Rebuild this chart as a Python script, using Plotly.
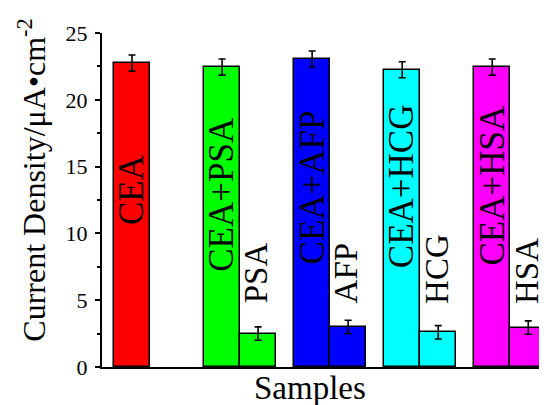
import plotly.graph_objects as go

# ---- data ----
categories = ["CEA", "CEA+PSA", "PSA", "CEA+AFP", "AFP", "CEA+HCG", "HCG", "CEA+HSA", "HSA"]
values = [22.75, 22.45, 2.5, 23.05, 3.0, 22.25, 2.6, 22.45, 2.95]
errors = [0.6, 0.6, 0.5, 0.6, 0.5, 0.6, 0.5, 0.6, 0.5]
groups = [0, 1, 1, 2, 2, 3, 3, 4, 4]
slots = [0, 0, 1, 0, 1, 0, 1, 0, 1]
colors = ["#FF0000", "#00FF00", "#00FF00", "#0000FF", "#0000FF",
          "#00FFFF", "#00FFFF", "#FF00FF", "#FF00FF"]
y_ticks = [0, 5, 10, 15, 20, 25]
inside_label_y = [13.25, 12.9, None, 13.45, None, 13.55, None, 13.6, None]
outside_label_y = 4.6

FONT = "Liberation Serif, Times New Roman, serif"

xpos = [g * 2.5 + s for g, s in zip(groups, slots)]

fig = go.Figure()
fig.add_trace(go.Bar(
    x=xpos, y=values, width=1,
    marker=dict(color=colors, line=dict(color="black", width=1.5)),
    error_y=dict(type="data", array=errors, color="black", thickness=1.6, width=3.5),
    showlegend=False,
))

annotations = []
for x, cat, s, ly in zip(xpos, categories, slots, inside_label_y):
    if s == 0:
        annotations.append(dict(x=x, y=ly, xref="x", yref="y", text=cat, textangle=-90,
                                showarrow=False, font=dict(family=FONT, size=35, color="black"),
                                xanchor="center", yanchor="middle"))
    else:
        annotations.append(dict(x=x - 0.05, y=outside_label_y, xref="x", yref="y", text=cat, textangle=-90,
                                showarrow=False, font=dict(family=FONT, size=33, color="black"),
                                xanchor="center", yanchor="bottom"))

annotations.append(dict(x=0.468, y=0, xref="paper", yref="paper", text="Samples",
                        showarrow=False, font=dict(family=FONT, size=33, color="black"),
                        xanchor="center", yanchor="top", yshift=-1))
annotations.append(dict(x=-0.158, y=0.56, xref="paper", yref="paper",
                        text="Current Density/μA•cm<sup>-2</sup>", textangle=-90,
                        showarrow=False, font=dict(family=FONT, size=32, color="black"),
                        xanchor="center", yanchor="middle"))

# the page body adds an 8px margin, so the figure is 8px smaller and margins shifted
fig.update_layout(
    width=539, height=397,
    margin=dict(l=94, r=0, t=25, b=38),
    plot_bgcolor="white", paper_bgcolor="white",
    bargap=0,
    annotations=annotations,
    xaxis=dict(range=[-0.833, 11.52], showticklabels=False, ticks="", showgrid=False,
               zeroline=False, showline=True, linecolor="black", linewidth=2),
    yaxis=dict(range=[0, 25], tickvals=y_ticks, ticks="outside", ticklen=5, tickwidth=2,
               tickcolor="black", showgrid=False, zeroline=False, showline=True,
               linecolor="black", linewidth=2, ticklabelstandoff=3,
               tickfont=dict(family=FONT, size=22, color="black"),
               minor=dict(tickvals=[2.5, 7.5, 12.5, 17.5, 22.5], ticks="outside",
                          ticklen=3, tickwidth=1.5, tickcolor="black")),
)

fig.write_html("out.html")
